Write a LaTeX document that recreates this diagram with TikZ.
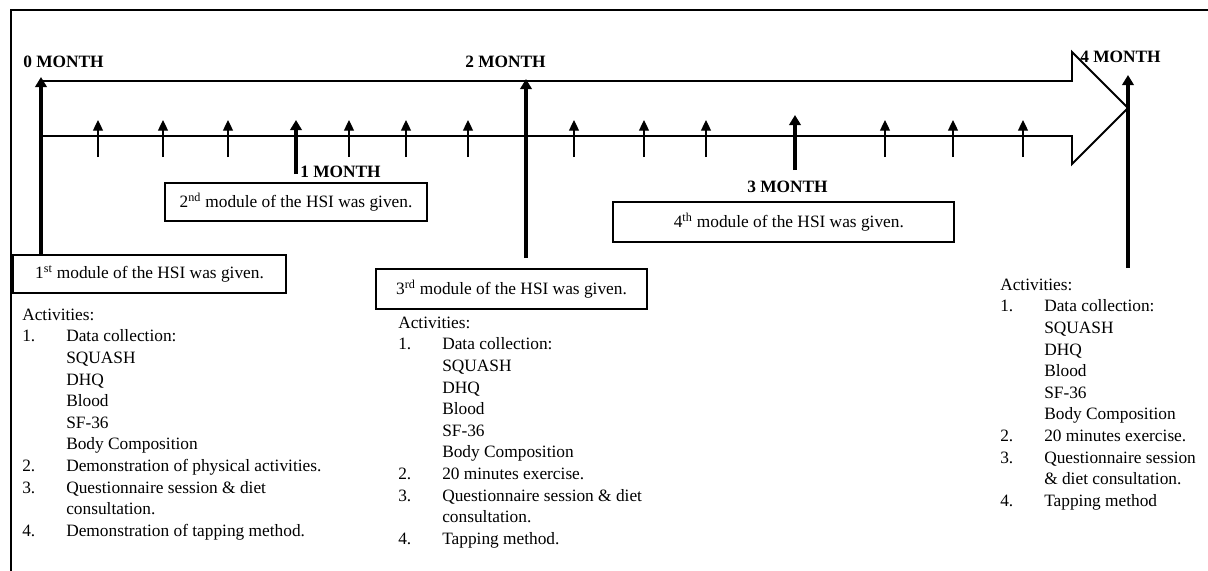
\documentclass[tikz,border=0pt]{standalone}
\usepackage{fontspec}
\setmainfont{Liberation Serif}
\usetikzlibrary{arrows.meta}
\begin{document}
\begin{tikzpicture}[x=0.75pt,y=-0.75pt,
  frameline/.style={line width=1.3pt},
  outline/.style={line width=1.4pt,line join=miter},
  thickarrow/.style={line width=2.5pt,-{Triangle[width=8.5pt,length=7.5pt]}},
  thinarrow/.style={line width=0.9pt,-{Triangle[width=7.5pt,length=8pt]}},
  modbox/.style={draw,line width=0.8pt,rectangle,inner sep=0pt,font=\fontsize{13}{16.2}\selectfont},
  monthlabel/.style={anchor=base west,inner sep=0pt,font=\fontsize{13}{16.2}\selectfont\bfseries},
  actlist/.style={anchor=north west,inner sep=0pt,align=left,font=\fontsize{13}{16.2}\selectfont}
]
\useasboundingbox (0,0) rectangle (1208,571);
% frame
\draw[frameline] (11,571) -- (11,10) -- (1208,10);
% big timeline arrow outline
\draw[outline] (41,81) -- (1072,81) -- (1072,52) -- (1128,108) -- (1072,164) -- (1072,136) -- (41,136);
% boxes
\node[modbox,minimum width=273*0.75pt,minimum height=38*0.75pt] (box1) at (149.5,274) {1\textsuperscript{st} module of the HSI was given.};
\node[modbox,minimum width=262*0.75pt,minimum height=38*0.75pt] (box2) at (296,202) {2\textsuperscript{nd} module of the HSI was given.};
\node[modbox,minimum width=271*0.75pt,minimum height=40*0.75pt] (box3) at (511.5,289) {3\textsuperscript{rd} module of the HSI was given.};
\node[modbox,minimum width=341*0.75pt,minimum height=40*0.75pt] (box4) at (783.5,222) {\hspace*{8pt}4\textsuperscript{th} module of the HSI was given.};
% month labels
\node[monthlabel] (l0) at (23,67) {0 MONTH};
\node[monthlabel] (l1) at (300,177) {1 MONTH};
\node[monthlabel] (l2) at (465,67) {2 MONTH};
\node[monthlabel] (l3) at (747,192) {3 MONTH};
\node[monthlabel] (l4) at (1080,62) {4 MONTH};
% thick month arrows
\coordinate (t0) at (41,77);
\draw[thickarrow] (box1.north -| t0) -- (t0);
\coordinate (b1) at (296,174); \coordinate (t1) at (296,120);
\draw[thickarrow] (b1) -- (t1);
\coordinate (b2) at (526,258); \coordinate (t2) at (526,79);
\draw[thickarrow] (b2) -- (t2);
\coordinate (b3) at (795,170); \coordinate (t3) at (795,115);
\draw[thickarrow] (b3) -- (t3);
\coordinate (b4) at (1128,268); \coordinate (t4) at (1128,75);
\draw[thickarrow] (b4) -- (t4);
% thin weekly arrows
\foreach \x [count=\i] in {98,163,228,349,406,468,574,644,706,885,953,1023}{
  \coordinate (sb\i) at (\x,157);
  \coordinate (st\i) at (\x,120);
  \draw[thinarrow] (sb\i) -- (st\i);
}
% activity lists
\newcommand{\numitem}[1]{\makebox[33pt][l]{#1}}
\newcommand{\indentitem}{\hspace*{33pt}}
\node[actlist] (act1) at (22,304.9) {\strut Activities:\\
\numitem{1.}Data collection:\\
\indentitem SQUASH\\
\indentitem DHQ\\
\indentitem Blood\\
\indentitem SF-36\\
\indentitem Body Composition\\
\numitem{2.}Demonstration of physical activities.\\
\numitem{3.}Questionnaire session \& diet\\
\indentitem consultation.\\
\numitem{4.}Demonstration of tapping method.};
\node[actlist] (act2) at (398,312.9) {\strut Activities:\\
\numitem{1.}Data collection:\\
\indentitem SQUASH\\
\indentitem DHQ\\
\indentitem Blood\\
\indentitem SF-36\\
\indentitem Body Composition\\
\numitem{2.}20 minutes exercise.\\
\numitem{3.}Questionnaire session \& diet\\
\indentitem consultation.\\
\numitem{4.}Tapping method.};
\node[actlist] (act3) at (1000,274.9) {\strut Activities:\\
\numitem{1.}Data collection:\\
\indentitem SQUASH\\
\indentitem DHQ\\
\indentitem Blood\\
\indentitem SF-36\\
\indentitem Body Composition\\
\numitem{2.}20 minutes exercise.\\
\numitem{3.}Questionnaire session\\
\indentitem \& diet consultation.\\
\numitem{4.}Tapping method};
\end{tikzpicture}
\end{document}
